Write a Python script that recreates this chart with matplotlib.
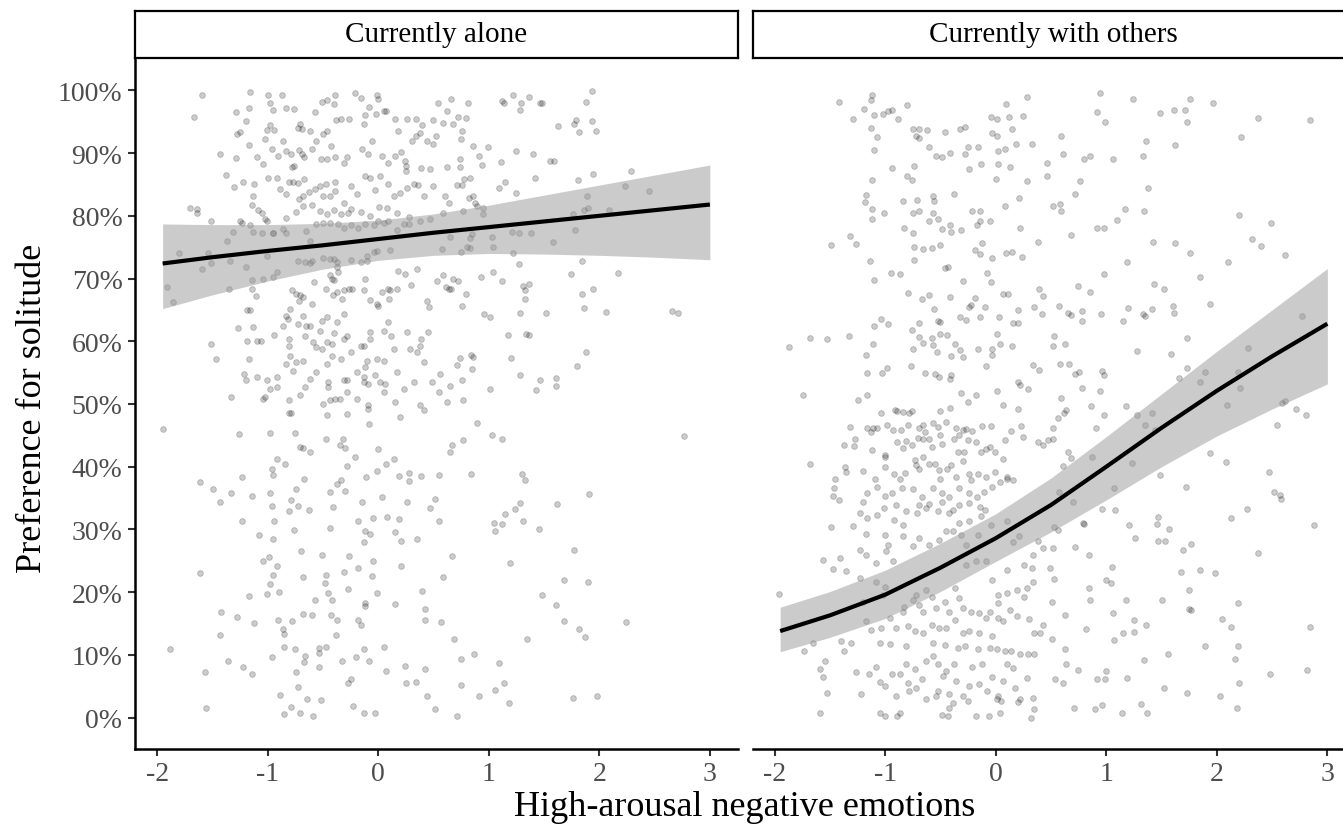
import matplotlib.pyplot as plt
from matplotlib.ticker import FuncFormatter

plt.rcParams['font.family'] = ['Liberation Serif', 'DejaVu Serif']

# ---- values ----
panels = ['Currently alone', 'Currently with others']
x_ticks = [-2, -1, 0, 1, 2, 3]
y_ticks = [0, 10, 20, 30, 40, 50, 60, 70, 80, 90, 100]

# raw observations, panel "Currently alone" (x = emotion score, y = % preference)
alone_x = [
    -1.59, -1.67, -1.16, -1.00, -0.98, -0.95, -0.87, -0.83, -0.76, -0.57,
    -0.51, -0.46, -0.39, -0.40, -0.21, -0.16, -0.08, -0.01, 0.00, -0.02,
    0.05, 0.07, -0.12, -0.13, -0.26, -0.34, -0.38, -0.46, -0.50, -0.56,
    -0.62, -0.71, -0.69, -0.73, -0.86, -0.94, -1.01, -0.98, -1.02, -1.17,
    -1.25, -1.28, -1.20, -1.29, -1.17, -1.43, -1.29, -1.10, -1.04, -0.96,
    -0.91, -0.83, -0.79, -0.78, -0.76, -0.72, -0.69, -0.67, -0.60, -0.52,
    -0.46, -0.43, -0.39, -0.31, -0.28, -0.15, -0.09, -0.06, 0.03, 0.09,
    0.15, 0.21, 0.24, 0.25, 0.31, 0.34, 0.38, 0.40, 0.34, 0.44,
    0.52, 0.54, 0.62, 0.50, 0.59, 0.50, 0.62, 0.47, 0.39, 0.25,
    0.18, 0.15, 0.26,
    -1.38, -1.30, -1.22, -1.12, -1.13, -1.14, -1.09, -1.05, -1.02, -1.00,
    -0.92, -0.89, -0.83, -0.81, -0.77, -0.73, -0.67, -0.72, -0.68, -0.63,
    -0.57, -0.53, -0.47, -0.39, -0.39, -0.50, -0.44, -0.31, -0.25, -0.19,
    -0.12, -0.07, -0.03, 0.02, 0.09, 0.14, 0.20, 0.26, 0.32, 0.36,
    0.41, 0.50, 0.60, 0.64, -0.83, -0.74, -0.68, -0.60, -0.53, -0.46,
    -0.40, -0.34, -0.27, -0.25, -0.16, -0.07, 0.01, 0.08, 0.17, 0.28,
    -1.70, -1.64, -1.64, -1.51, -1.25, -1.23, -1.16, -1.01, -0.83, -0.95,
    -0.86,
    -1.37, -1.31, -1.13, -1.05, -0.95, -0.65, -0.62, -0.56, -0.50, -0.44,
    -0.36, -0.31, -0.25, -0.18, -0.12, -0.04, 0.00, 0.05, 0.09, 0.17,
    0.23, 0.28, 0.38, 0.47, 0.59, -1.80, -1.54, -1.51, -1.59, -1.34,
    -1.20, -1.01, -0.73, -0.62, -0.60, -0.50, -0.44, -0.40, -0.37, -0.25,
    -0.16, -0.10, -0.10, -0.04, -0.01, 0.11, 0.58, -1.91, -1.86, -1.35,
    -1.14, -1.04, -0.95, -0.92, -1.14, -1.11, -0.66, -0.37, -0.36,
    -0.78, -0.74, -0.71, -0.72, -0.80, -0.83, -0.68, -0.60, -0.58, -0.47,
    -0.44, -0.42, -0.40, -0.41, -0.37, -0.33, -0.31, -0.26, -0.24, -0.13,
    -0.12, -0.07, -0.01, 0.00, 0.03, 0.09, 0.11, 0.17, 0.10, 0.18,
    0.24, 0.30, 0.35, 0.44, 0.46, 0.53, 0.59, 0.61, 0.64, -1.19,
    -1.16, -1.27, -1.13, -1.19, -1.10, -1.06, -1.51, -1.47, -1.17, -1.21,
    -1.20, -1.10, -1.01, -0.92, -0.94, -0.86, -0.82, -0.81, -0.81, -0.80,
    -0.77, -0.73, -0.68, -0.65, -0.62, -0.66, -0.59, -0.56, -0.51, -0.53,
    -0.51, -0.46, -0.46, -0.42, -0.40, -0.37, -0.31, -0.31, -0.28, -0.25,
    -0.34, -0.42, -0.46, -0.56, -0.62, -0.66, -0.68, -0.74, -0.83, -0.98,
    -0.92, -1.02, -1.04, -1.33, -0.81, -0.71, -0.50, -0.44, -0.39, -0.35,
    -0.28, -0.28, -0.31, -0.45, -0.45, -0.19, -0.12, -0.10, -0.13, -0.13,
    -0.09, -0.03, 0.02, 0.06, -0.01, 0.05, -0.16, -0.13, -0.07, -0.07,
    0.05, 0.09, 0.12, 0.14, 0.17, 0.26, 0.29, 0.35, 0.38, 0.39,
    0.45, 0.41, 0.49, 0.56, 0.55, 0.62, 0.38, 0.32, 0.23, 0.15,
    0.05, -0.09, -0.19,
    -0.81, -0.79, -0.46, -0.28, -0.09, -0.08, 0.20, 0.41, -1.95, -1.26,
    -0.98, -0.75, -0.71, -0.68, -0.62, -0.47, -0.35, -0.32, -0.30, -0.92,
    -0.84, -0.96, -0.95, -1.61, -1.49, -1.43, -1.33, -1.23, -1.14, -0.98,
    -0.96, -0.79, -0.74, -0.81, -0.73, -0.67, -0.63, -0.44, -0.41, -0.34,
    -0.37, -0.30, -0.28, -0.21, -0.11, -0.15, 0.00, -0.01, 0.07, 0.14,
    0.03, 0.19, 0.28, 0.28, 0.39, 0.55, 0.51, 0.47, 0.26, -1.23,
    -0.94, -1.08, -0.95, -0.76, -0.44, -0.18, -0.05, 0.08, 0.19, -0.12,
    -0.07, -0.13, 0.15, 0.21, 0.35, 0.55, -0.70, -0.51, -0.26, -1.04,
    -0.99, -0.92, -0.95, -0.98, -0.90, -1.01, -1.17, -1.61, -0.68, -0.47,
    -0.48, -0.45, -0.31, -0.27, -0.18, -0.05, -0.06, -0.01, 0.21, 0.40,
    0.59, -0.57, -0.42, -0.12, -0.12, 0.15, 0.42, -1.42, -1.28, -1.12,
    -0.91, -0.86, -0.85, -0.78, -0.68, -0.60, -0.43, -0.37, -0.38, -0.18,
    -0.16, 0.42, 0.57, -1.43, -1.88, -1.36, -1.22, -1.14, -1.57, -1.56,
    -0.96, -0.85, -0.75, -0.66, -0.67, -0.74, -0.73, -0.54, -0.54, -0.47,
    -0.54, -0.33, -0.20, -0.13, -0.08, 0.05, 0.07, 0.24, 0.25, 0.34,
    0.42, 0.44, 0.51, -0.27, -0.25, -0.89, -0.64, -0.52, -0.79, -0.85,
    -0.71, -0.59, -0.23, -0.13, -0.03,
    0.66, 0.81, 0.72, 0.79, 0.68, 0.76, 0.75, 0.86, 0.99, 0.91,
    0.94, 1.11, 0.74, 0.74, 0.71, 0.76, 0.78, 0.83, 0.82, 0.86,
    0.88, 0.89, 0.95, 0.95, 0.77, 1.12, 1.14, 1.22, 1.29, 1.36,
    1.28, 1.46, 1.48, 1.25, 1.40, 1.55, 1.59, 1.42, 1.15, 1.09,
    1.25, 1.63, 1.77, 1.79, 1.82, 1.88, 1.93, 1.93, 1.97, 1.81,
    1.94, 2.29, 1.89, 1.90, 1.86, 1.76, 2.09, 2.23, 2.45, 1.78,
    1.58, 1.38, 1.27, 1.21, 1.03, 1.04, 1.22, 1.27, 0.83, 0.80,
    0.83, 0.85, 0.75, 0.65, 1.84, 1.74, 2.17, 1.94, 1.84, 1.86,
    2.06, 1.52, 1.28, 1.31, 1.33, 1.36, 1.33, 1.04, 1.12, 0.93,
    0.79, 0.76, 0.72, 0.68, 0.66, 0.96, 1.01, 1.17, 1.34, 1.36,
    2.66, 2.71, 1.88, 1.80, 1.20, 0.84, 0.86, 0.74, 0.71, 0.85,
    1.28, 1.46, 1.61, 1.61, 1.43, 1.01, 0.76, 0.65, 0.77, 0.89,
    1.03, 1.12, 0.77, 0.67, 0.65, 2.77, 0.84, 1.30, 1.33, 1.91,
    1.62, 1.28, 1.24, 1.15, 1.12, 1.05, 1.06, 1.31, 1.45, 1.77,
    1.19, 0.67, 1.68, 1.90, 1.48, 1.61, 1.68, 1.82, 1.87, 2.24,
    1.35, 0.69, 0.87, 0.75, 1.09, 1.14, 1.06, 1.18, 0.91, 0.75,
    1.76, 1.98, 0.71,
]
alone_y = [
    99.3, 95.8, 99.8, 99.2, 98.0, 96.8, 99.2, 97.2, 97.0, 96.6,
    98.1, 98.4, 99.3, 97.9, 99.6, 98.8, 97.4, 99.2, 98.6, 96.3,
    96.7, 96.7, 96.0, 94.6, 95.4, 95.4, 95.2, 93.6, 93.1, 91.9,
    93.6, 94.7, 93.9, 94.0, 91.9, 93.7, 93.7, 94.4, 92.2, 91.3,
    93.3, 93.1, 95.1, 96.6, 97.2, 89.9, 89.2, 89.3, 88.2, 90.6,
    89.6, 90.3, 89.9, 87.8, 88.0, 90.5, 89.9, 89.3, 90.7, 89.1,
    89.0, 91.2, 89.3, 88.4, 89.4, 90.6, 89.8, 92.0, 89.5, 88.5,
    89.6, 90.1, 88.7, 88.0, 92.0, 92.7, 93.2, 94.4, 95.4, 91.9,
    92.8, 98.0, 96.7, 95.2, 94.8, 91.5, 87.8, 87.4, 87.7, 87.1,
    93.5, 95.4, 95.4,
    86.5, 84.6, 85.4, 85.1, 83.2, 81.7, 80.9, 80.5, 79.5, 86.1,
    86.1, 84.3, 83.5, 85.4, 85.4, 85.3, 85.9, 82.7, 83.2, 83.8,
    84.2, 84.7, 85.0, 85.4, 83.9, 83.2, 83.2, 82.1, 84.8, 83.4,
    86.3, 86.1, 84.1, 86.3, 85.0, 83.2, 83.7, 84.5, 85.0, 84.9,
    83.2, 84.8, 83.2, 82.1, 79.7, 80.6, 81.6, 81.7, 80.8, 80.3,
    80.9, 80.3, 80.5, 81.1, 80.6, 80.0, 81.4, 81.2, 80.4, 79.8,
    81.2, 81.1, 80.5, 79.1, 79.1, 78.9, 78.6, 79.2, 77.3, 77.3,
    77.9,
    76.0, 77.5, 77.4, 77.2, 77.2, 77.6, 76.0, 78.7, 78.9, 78.8,
    78.7, 78.1, 78.5, 78.1, 78.7, 78.5, 79.2, 78.9, 79.2, 77.8,
    78.7, 78.7, 79.2, 79.5, 80.5, 74.1, 74.0, 72.5, 71.5, 72.8,
    71.9, 73.6, 72.8, 72.4, 72.8, 73.2, 73.1, 73.1, 72.6, 72.9,
    72.7, 73.6, 72.8, 74.3, 74.4, 74.6, 74.7, 68.6, 66.2, 68.3,
    69.8, 69.9, 70.3, 71.1, 68.3, 67.2, 72.6, 71.8, 71.1,
    68.2, 67.5, 67.3, 66.5, 65.1, 64.1, 67.0, 65.9, 69.5, 68.3,
    70.5, 69.9, 69.8, 67.4, 67.8, 66.7, 68.1, 68.3, 68.3, 68.1,
    69.9, 66.6, 65.9, 65.7, 67.8, 68.3, 68.1, 68.3, 66.7, 71.2,
    70.7, 68.9, 71.5, 66.5, 65.4, 69.6, 70.6, 68.6, 68.3, 65.0,
    65.0, 62.1, 62.2, 60.0, 60.1, 60.1, 59.6, 57.2, 57.2, 54.8,
    53.9, 54.3, 53.9, 54.3, 61.0, 62.5, 63.6, 60.4, 59.3, 57.7,
    55.3, 62.8, 64.1, 62.5, 62.5, 60.9, 59.9, 59.1, 58.8, 61.7,
    63.3, 63.8, 59.9, 59.6, 61.3, 63.0, 64.4, 60.4, 60.9, 58.3,
    57.2, 57.7, 56.4, 55.1, 54.0, 52.7, 56.9, 56.7, 56.4, 52.4,
    52.7, 51.1, 50.8, 51.1, 50.6, 51.4, 50.0, 50.6, 50.8, 50.8,
    51.9, 53.8, 53.8, 53.5, 52.7, 55.1, 55.9, 56.9, 54.3, 53.5,
    53.2, 54.6, 53.5, 53.2, 57.2, 56.9, 59.3, 59.3, 61.4, 60.4,
    61.7, 63.0, 60.9, 58.8, 55.1, 61.4, 58.8, 58.3, 59.3, 60.4,
    61.4, 56.7, 53.5, 54.8, 51.9, 50.3, 49.8, 53.5, 52.4, 50.3,
    51.9, 49.8, 50.8,
    48.6, 48.6, 48.2, 48.4, 49.2, 46.8, 47.9, 49.0, 46.0, 45.2,
    45.3, 45.3, 43.2, 43.0, 42.4, 44.5, 43.5, 44.4, 43.0, 41.2,
    40.5, 39.7, 38.7, 37.5, 36.4, 34.4, 35.8, 38.3, 35.3, 35.8,
    33.8, 34.7, 36.5, 32.9, 33.8, 38.1, 33.1, 35.9, 33.6, 37.9,
    37.2, 36.2, 40.1, 41.5, 38.3, 34.3, 42.9, 39.3, 40.4, 41.3,
    35.2, 38.6, 39.0, 37.8, 38.6, 38.7, 34.8, 33.4, 34.4, 31.3,
    31.3, 29.1, 28.5, 29.9, 30.2, 31.4, 31.8, 32.0, 31.7, 29.7,
    29.3, 28.0, 29.6, 28.2, 28.4, 31.4, 26.5, 26.0, 25.7, 24.9,
    25.6, 24.1, 22.8, 21.3, 20.1, 19.7, 19.4, 23.1, 22.5, 22.7,
    21.5, 19.9, 23.2, 20.5, 23.9, 25.0, 22.6, 19.9, 24.2, 20.2,
    22.4, 18.8, 18.7, 18.3, 17.8, 18.1, 17.3, 16.8, 16.1, 15.1,
    15.5, 14.2, 13.3, 15.4, 16.6, 16.3, 16.4, 15.5, 13.1, 15.5,
    14.8, 15.5, 15.3, 13.2, 10.9, 9.0, 8.0, 6.9, 7.3, 1.5,
    9.6, 11.2, 10.9, 9.9, 8.8, 7.2, 4.9, 11.1, 10.3, 11.3,
    8.1, 9.1, 9.6, 11.0, 9.1, 11.3, 7.4, 8.2, 5.6, 5.7,
    7.7, 3.4, 1.3, 5.6, 6.1, 3.6, 2.9, 2.8, 1.7, 0.6,
    0.7, 0.3, 1.8, 0.7, 0.7,
    98.6, 98.0, 95.7, 95.6, 94.6, 93.6, 92.2, 91.2, 90.9, 89.5,
    88.1, 88.6, 89.0, 87.8, 84.9, 84.9, 85.8, 86.1, 82.8, 83.1,
    82.1, 81.5, 81.2, 80.3, 80.8, 98.3, 98.0, 99.2, 98.0, 98.9,
    96.8, 98.0, 98.0, 90.4, 89.9, 88.8, 88.8, 86.1, 85.4, 84.4,
    83.7, 94.3, 94.6, 95.2, 93.4, 98.2, 99.9, 95.1, 93.6, 85.7,
    86.7, 87.2, 83.2, 81.2, 81.0, 80.3, 81.0, 84.7, 83.9, 77.8,
    75.8, 77.3, 77.3, 77.5, 76.7, 75.1, 74.0, 72.3, 74.8, 75.0,
    76.4, 77.1, 74.3, 76.6, 72.8, 70.7, 70.9, 68.4, 67.5, 65.3,
    64.6, 64.5, 64.5, 68.8, 68.1, 69.2, 66.7, 71.1, 69.6, 70.3,
    67.5, 65.7, 69.6, 69.9, 68.4, 64.3, 63.8, 61.0, 61.2, 61.0,
    64.9, 64.5, 58.3, 56.1, 57.3, 57.8, 57.5, 57.3, 56.2, 55.6,
    54.6, 53.9, 54.1, 52.9, 52.2, 52.4, 53.9, 52.9, 50.7, 47.0,
    45.1, 44.5, 44.2, 43.4, 42.4, 44.9, 38.8, 38.8, 37.9, 35.7,
    34.1, 34.2, 33.2, 32.5, 30.8, 31.1, 29.7, 31.3, 30.1, 26.7,
    24.7, 25.7, 21.9, 21.6, 19.6, 17.9, 15.4, 14.2, 12.9, 15.2,
    12.6, 12.5, 10.2, 9.4, 8.7, 5.6, 4.4, 2.4, 3.4, 5.2,
    3.1, 3.5, 0.3,
]

# raw observations, panel "Currently with others"
others_x = [
    -1.42, -1.13, -1.12, -1.19, -1.29, -1.10, -1.02, -0.97, -0.94, -0.80,
    -0.88, -1.13, -1.07, -1.10, -0.75, -0.69, -0.62, -0.72, -0.69, -0.46,
    -0.32, -0.28, -0.60, -0.54, -0.49, -0.41, -0.28, -0.25, -0.16, -0.04,
    0.01, -0.03, 0.01, 0.09, 0.12, 0.15, 0.25, 0.28, 0.02, 0.08,
    0.18, 0.33, 0.46, 0.46, 0.02, 0.13, -0.13, -0.24, 0.00, 0.28,
    -0.94, -0.74, -0.80, -0.76, -1.12, -1.17, -1.18, -1.12, -1.12, -1.01,
    -0.84, -0.71, -0.57, -0.56, -0.38, -0.75, -0.69, -0.57, -0.60, -0.52,
    -0.83, -0.75, -0.49, -0.41, -0.40, -0.31, -0.21, -0.14, -0.14, -0.17,
    -0.05, 0.08, 0.21, 0.22, 0.38, -1.32, -1.26, -1.49, -1.14, -1.10,
    -0.95, -0.87, -0.74, -0.74, -0.66, -0.58, -0.50, -0.46, -0.43, -0.30,
    -0.19, -0.12, -0.14, -0.03, 0.09, 0.15, 0.24, -0.08, -0.04, -0.79,
    -0.67, -0.60, -0.56, -0.41, -0.24, -0.22, -0.19, -0.10, 0.07, 0.11,
    0.20, 0.35, 0.39, 0.43, 0.42, -1.68, -1.53, -1.87, -1.33, -1.10,
    -1.04, -0.97, -1.11, -1.17, -0.76, -0.69, -0.69, -0.66, -0.58, -0.57,
    -0.53, -0.52, -0.50, -0.50, -0.44, -0.32, -0.27, -0.37, -0.40, -0.30,
    -0.32, -0.75, -0.14, 0.03, 0.16, 0.20, 0.01, 0.04, 0.15, -0.03,
    -0.03, -0.16, -0.09, 0.34, 0.39, -1.16, -1.03, -0.98, -0.77, -0.64,
    -0.55, -0.51, -0.40, -0.41, -1.74, -1.25, -1.16, -0.31, -0.25, -0.18,
    0.01, 0.20, 0.22, 0.29, 0.07,
    -1.04, -0.91, -0.89, -0.84, -0.78, -0.76, -0.50, -0.41, 0.20, -1.32,
    -1.16, -1.13, -1.11, -1.07, -0.98, -0.93, -0.86, -0.79, -0.69, -0.66,
    -0.57, -0.52, -0.45, -0.36, -0.30, -0.27, -0.21, -0.12, -0.04, 0.14,
    0.23, 0.25, 0.08, -1.37, -1.27, -1.28, -1.12, -1.00, -1.00, -0.89,
    -0.84, -0.81, -0.76, -0.70, -0.66, -0.64, -0.60, -0.58, -0.50, -0.49,
    -0.38, -0.33, -0.29, -0.25, -0.18, -0.13, -0.09, -0.05, -0.01, 0.07,
    0.38, 0.43, 0.47, -1.68, -1.36, -1.35, -1.20, -1.09, -1.00, -0.92,
    -0.87, -0.82, -0.73, -0.72, -0.69, -0.66, -0.60, -0.55, -0.51, -0.50,
    -0.44, -0.40, -0.36, -0.34, -0.30, -0.24, -0.22, -0.16, -0.09, -0.01,
    0.04, 0.10, 0.16, -1.45, -1.46, -1.47, -1.42, -1.16, -1.07, -1.00,
    -0.94, -0.85, -0.75, -0.67, -0.57, -0.49, -0.42, -0.33, -0.24, -0.17,
    -0.11, -0.03, 0.10, -1.20, -1.16, -1.23, -1.07, -1.01, -0.92, -0.90,
    -0.84, -0.81, -0.71, -0.69, -0.63, -0.60, -0.52, -0.49, -0.42, -0.39,
    -0.33, -0.33, -0.24, -0.24, -0.14, -0.13, -0.10, -1.49, -1.29, -1.17,
    -1.17, -1.00, -0.99, -0.93, -1.08, -1.23, -1.41, -1.56, -1.47, -1.35,
    -0.97, -0.84, -0.75, -0.69, -0.60, -0.51, -0.45, -0.39, -0.31, -0.27,
    -0.16, -0.27, -0.18, -0.09, -0.04, 0.10, 0.16, 0.21, 0.34, 0.38,
    0.43, 0.26, 0.33, 0.34, 0.28, 0.26, 0.10, -0.03, 0.02, 0.02,
    0.10, 0.19, -1.23, -1.08, -1.17, -1.20, -1.00, -1.02, -0.83, -0.84,
    -0.75, -0.72, -0.69, -0.66, -0.63, -0.58, -0.54, -0.46, -0.42, -0.37,
    -0.33, -0.30, -0.22, -0.15, -0.09, -0.05, 0.02, 0.07, 0.13, 0.19,
    0.30, 0.40, 0.43, 0.35, -0.96, -0.90, -1.04, -1.13, -0.79, -0.73,
    -0.66, -0.58, -0.51, -0.45, -0.37, -0.30, -0.24, -0.15, -0.03, 0.08,
    0.14, 0.22, 0.29, 0.35, 0.01, -0.05, -0.16, -0.34, -0.28, -0.46,
    -0.57, -0.81, -0.96, -1.05, -1.31, -1.37, -1.40, -1.73, -1.65, -1.54,
    -1.59, -1.56, -1.53, -1.59, -1.26, -1.15, -1.05, -1.22, -1.08, -1.00,
    -0.94, -0.87, -0.81, -0.79, -0.78, -0.73, -0.72, -0.67, -0.63, -0.57,
    -0.52, -0.52, -0.48, -0.45, -0.42, -0.38, -0.36, -0.30, -0.24, -0.21,
    -0.15, -0.12, -0.08, -0.03, 0.02, 0.07, 0.10, 0.16, 0.17, 0.22,
    0.28, 0.34, 0.35, 0.32, 0.20, -1.05, -1.00, -0.89, -0.87, -0.90,
    -0.63, -0.54, -0.49, -0.43, -0.42, -0.39, -0.25, -0.18, -0.06, 0.04,
    0.05, 0.01, -1.96,
    0.94, 0.92, 0.99, 1.24, 1.49, 1.61, 1.71, 1.76, 1.73, 1.97,
    2.37, 2.84, 2.22, 0.59, 0.61, 0.80, 0.85, 1.06, 1.33, 1.36,
    1.62, 0.76, 0.72, 0.52, 0.58, 0.59, 1.38, 1.34, 1.17, 1.10,
    0.92, 0.98, 0.68, 1.42, 1.62, 1.76, 2.20, 2.49, 2.32, 2.40,
    2.62, 1.19, 0.98, 2.10, 1.85, 1.43, 1.52, 0.74, 0.85, 0.57,
    0.78, 0.78, 0.65, 0.68, 0.95, 1.20, 1.15, 1.33, 1.35, 1.41,
    1.60, 1.61, 1.94, 0.53, 0.52, 0.63, 0.58, 0.66, 0.72, 0.75,
    0.78, 0.96, 0.98, 0.94, 1.28, 1.59, 1.73, 1.73, 1.66, 0.59,
    0.86, 0.98, 0.56, 0.52, 0.62, 0.64, 0.91, 1.18, 1.28, 2.28,
    2.77, 1.85, 1.89, 2.19, 2.21, 2.09, 2.59, 2.62, 2.54, 2.72,
    2.81, 1.41, 1.35, 1.44, 1.23, 1.07, 0.87, 0.65, 0.68, 0.52,
    0.61, 0.57, 0.70, 0.96, 1.08, 0.79, 0.80, 0.53, 0.56, 0.52,
    0.72, 0.84, 1.21, 1.26, 1.47, 1.46, 1.47, 1.53, 1.57, 1.49,
    1.72, 1.94, 2.08, 2.47, 2.52, 2.57, 2.58, 2.88, 2.13, 2.27,
    2.37, 1.69, 1.77, 1.85, 1.68, 1.98, 0.49, 0.53, 0.84, 0.85,
    1.00, 1.04, 1.05, 1.18, 1.06, 1.50, 1.75, 1.75, 1.77, 2.05,
    2.13, 2.19, 2.84, 0.51, 0.63, 0.51, 0.63, 0.64, 0.82, 1.07,
    1.15, 1.25, 1.25, 1.36, 1.34, 1.56, 1.89, 2.16, 2.19, 2.48,
    2.82, 2.20, 2.03, 1.73, 1.52, 1.19, 1.00, 0.99, 0.92, 0.74,
    0.61, 0.54, 0.71, 0.90, 0.96, 1.14, 1.31, 1.37, 2.18,
]
others_y = [
    98.2, 98.5, 99.3, 97.1, 95.4, 96.0, 96.3, 96.7, 96.8, 97.6,
    95.5, 94.0, 92.6, 90.5, 93.9, 93.9, 93.7, 92.7, 92.4, 93.3,
    93.8, 94.1, 91.0, 89.6, 89.4, 90.0, 89.8, 91.0, 90.9, 95.8,
    95.5, 93.2, 92.8, 97.9, 95.8, 93.8, 95.9, 99.0, 90.4, 90.6,
    91.4, 91.4, 88.5, 86.3, 88.3, 87.8, 88.2, 87.5, 85.9, 85.6,
    87.7, 87.9, 86.3, 85.7, 85.7, 83.3, 82.2, 81.1, 79.5, 80.5,
    82.4, 82.6, 83.1, 82.4, 83.4, 80.5, 80.8, 80.5, 79.1, 79.5,
    78.1, 77.2, 77.9, 78.5, 77.4, 77.8, 80.8, 80.8, 79.1, 78.5,
    79.1, 81.6, 82.9, 78.1, 75.8, 76.8, 75.5, 75.4, 72.8, 69.7,
    70.9, 70.8, 75.0, 73.0, 74.7, 74.8, 75.4, 71.7, 71.9, 69.6,
    74.5, 75.7, 73.9, 73.2, 74.1, 74.3, 73.5, 70.9, 69.5, 67.7,
    66.7, 67.4, 65.2, 67.0, 65.4, 65.8, 66.9, 65.4, 67.5, 67.5,
    65.0, 65.4, 68.4, 67.2, 64.3, 60.6, 60.4, 59.1, 60.9, 62.4,
    63.5, 62.7, 59.6, 57.8, 61.8, 62.9, 60.7, 59.7, 60.5, 59.4,
    58.3, 63.3, 63.0, 61.1, 61.0, 63.8, 63.4, 59.5, 57.6, 57.5,
    58.6, 58.8, 63.8, 63.8, 62.9, 62.9, 61.2, 59.5, 59.2, 58.7,
    57.8, 58.8, 56.1, 56.2, 55.5, 54.9, 55.0, 55.7, 56.0, 55.0,
    54.8, 54.3, 54.6, 54.0, 51.5, 50.7, 51.4, 51.7, 50.3, 51.4,
    52.1, 53.5, 53.1, 52.4, 49.8,
    48.5, 49.0, 48.9, 48.8, 48.5, 48.9, 48.9, 49.3, 49.2, 46.4,
    46.1, 45.6, 46.1, 46.1, 46.7, 45.8, 45.8, 46.6, 46.2, 46.6,
    46.9, 46.4, 47.1, 46.2, 45.8, 46.0, 45.7, 46.5, 46.5, 45.7,
    46.5, 44.8, 44.2, 43.5, 44.5, 43.3, 42.7, 41.9, 40.0, 44.0,
    43.0, 44.1, 43.5, 44.6, 44.4, 45.6, 44.4, 43.2, 45.0, 43.7,
    44.5, 45.1, 42.4, 44.2, 44.0, 42.4, 42.9, 43.1, 42.4, 41.2,
    44.0, 43.4, 44.2, 40.5, 40.0, 39.2, 39.3, 38.1, 41.6, 38.8,
    38.1, 39.0, 41.1, 40.3, 39.7, 41.6, 40.4, 40.5, 39.5, 38.1,
    39.7, 40.3, 38.3, 42.4, 40.9, 38.9, 37.9, 38.9, 38.4, 39.2,
    37.6, 38.4, 37.9, 38.1, 36.6, 35.3, 34.7, 35.8, 36.8, 35.3,
    35.8, 36.6, 36.5, 35.2, 36.6, 35.8, 35.2, 36.6, 35.8, 35.2,
    36.0, 36.7, 38.1, 34.3, 31.9, 32.6, 32.3, 33.4, 31.5, 33.9,
    30.7, 32.9, 32.6, 33.9, 33.4, 34.0, 32.9, 34.4, 32.6, 33.1,
    33.9, 31.1, 34.2, 31.3, 33.6, 32.1, 33.1, 30.4, 30.5, 29.2,
    26.0, 29.1, 26.5, 24.9, 24.6, 26.8, 25.5, 25.2, 23.7, 23.4,
    27.6, 28.9, 27.3, 28.6, 27.5, 28.3, 29.7, 29.8, 29.1, 27.6,
    29.1, 24.4, 24.9, 24.9, 30.7, 31.3, 28.0, 28.9, 26.0, 28.1,
    27.0, 24.4, 23.9, 21.7, 20.7, 19.3, 23.6, 22.0, 19.6, 18.3,
    19.9, 20.4, 22.3, 21.7, 15.4, 18.5, 20.9, 19.6, 17.7, 16.9,
    18.8, 19.6, 18.0, 16.9, 20.4, 19.3, 17.5, 18.5, 16.9, 20.7,
    19.1, 17.5, 16.9, 16.7, 15.9, 16.9, 15.9, 15.4, 17.2, 16.2,
    15.7, 13.5, 14.8, 13.5, 15.9, 14.3, 14.3, 14.0, 14.6, 13.8,
    13.5, 14.8, 14.3, 14.3, 15.6, 13.5, 13.8, 13.5, 13.0, 10.6,
    10.6, 10.1, 10.1, 10.1, 10.9, 11.1, 11.0, 11.1, 11.4, 11.6,
    11.9, 11.4, 11.7, 11.9, 11.9, 10.6, 12.2, 10.7, 11.9, 9.0,
    7.8, 6.4, 4.0, 0.8, 7.3, 6.9, 5.7, 3.8, 8.0, 5.0,
    6.9, 6.9, 8.5, 5.6, 4.2, 7.7, 4.7, 6.1, 9.0, 9.8,
    8.5, 4.2, 6.6, 7.4, 3.7, 8.5, 5.8, 3.4, 5.0, 8.0,
    5.3, 8.5, 4.2, 6.4, 3.4, 5.8, 8.5, 7.9, 4.8, 2.9,
    6.3, 3.2, 1.3, 0.0, 2.5, 0.8, 0.3, 0.3, 0.8, 3.4,
    2.9, 3.4, 0.5, 0.3, 1.6, 2.4, 2.6, 0.3, 0.3, 0.8,
    2.6, 2.9, 19.7,
    99.6, 96.6, 95.0, 98.7, 96.4, 96.8, 96.8, 98.7, 95.0, 98.0,
    95.6, 95.3, 92.6, 92.7, 89.8, 89.0, 89.5, 89.0, 89.5, 91.9,
    91.3, 85.6, 83.4, 81.5, 81.9, 80.7, 84.4, 80.8, 81.1, 79.3,
    78.0, 78.0, 77.0, 75.8, 75.6, 74.1, 80.2, 78.8, 76.3, 75.2,
    73.7, 72.6, 70.7, 72.6, 70.2, 69.1, 68.4, 68.8, 67.9, 65.6,
    64.8, 63.3, 64.5, 64.2, 64.3, 65.3, 63.3, 64.3, 64.0, 65.1,
    65.6, 64.5, 66.0, 60.8, 59.2, 59.6, 56.4, 56.4, 54.8, 55.1,
    52.5, 55.3, 54.6, 52.1, 58.4, 57.9, 60.5, 55.8, 54.1, 51.0,
    49.7, 48.3, 47.8, 46.1, 48.5, 49.0, 46.1, 49.7, 48.3, 58.9,
    64.0, 53.5, 55.1, 55.1, 52.5, 49.9, 50.2, 50.4, 46.6, 49.2,
    48.3, 48.6, 46.6, 45.8, 40.6, 36.6, 41.5, 42.4, 41.4, 44.4,
    40.1, 35.9, 34.3, 33.3, 33.1, 31.1, 30.8, 30.4, 29.9, 27.0,
    27.2, 26.0, 30.7, 28.7, 32.0, 30.9, 28.2, 28.2, 30.1, 38.7,
    36.7, 42.2, 40.7, 39.1, 36.0, 35.5, 34.8, 30.7, 31.8, 33.2,
    26.3, 26.8, 27.7, 23.5, 23.2, 23.1, 23.8, 22.1, 20.7, 18.8,
    21.9, 21.5, 24.0, 18.7, 16.7, 18.7, 20.4, 17.3, 17.1, 15.8,
    14.4, 18.3, 14.5, 18.5, 16.4, 12.5, 11.0, 8.6, 14.1, 12.4,
    13.5, 13.6, 15.5, 14.7, 9.2, 10.1, 11.4, 9.3, 11.4, 6.9,
    7.6, 5.5, 3.5, 3.9, 4.7, 6.3, 7.5, 6.2, 6.2, 7.6,
    5.6, 6.1, 1.5, 1.4, 2.0, 0.7, 2.2, 0.8, 1.5,
]

# fitted curve and confidence band for each panel
fit_x = [-1.95, -1.5, -1.0, -0.5, 0.0, 0.5, 1.0, 1.5, 2.0, 2.5, 3.0]
alone_fit = [72.4, 73.4, 74.4, 75.3, 76.3, 77.3, 78.2, 79.1, 80.0, 80.9, 81.8]
alone_lo = [65.2, 67.4, 69.6, 71.5, 72.9, 73.7, 74.0, 73.9, 73.7, 73.4, 73.0]
alone_hi = [78.7, 78.6, 78.6, 78.8, 79.3, 80.3, 81.7, 83.3, 84.9, 86.5, 88.1]
others_fit = [13.8, 16.3, 19.6, 23.9, 28.6, 33.9, 40.0, 46.2, 52.1, 57.6, 62.8]
others_lo = [10.5, 12.8, 15.8, 20.1, 24.9, 29.6, 34.7, 40.0, 44.9, 49.2, 53.2]
others_hi = [17.6, 20.1, 23.5, 27.8, 32.5, 38.2, 44.8, 51.6, 58.4, 65.0, 71.6]

W, H = 1343, 828
fig = plt.figure(figsize=(W / 100, H / 100), dpi=100)


def box(x0, y0, x1, y1):
    # pixel box (origin top-left) -> figure fraction
    return [x0 / W, 1 - y1 / H, (x1 - x0) / W, (y1 - y0) / H]


ax1 = fig.add_axes(box(135, 60, 737.5, 750))
ax2 = fig.add_axes(box(752.5, 60, 1355, 750))

series = [
    (ax1, alone_x, alone_y, alone_fit, alone_lo, alone_hi),
    (ax2, others_x, others_y, others_fit, others_lo, others_hi),
]
for ax, xs, ys, fit, lo, hi in series:
    ax.scatter(xs, ys, s=17, color='black', alpha=0.2, linewidths=0.7,
               edgecolors='black', zorder=2)
    ax.fill_between(fit_x, lo, hi, color='#999999', alpha=0.5, lw=0, zorder=3)
    ax.plot(fit_x, fit, color='black', lw=3, solid_capstyle='butt',
            solid_joinstyle='round', zorder=4)

    ax.set_xlim(-2.2, 3.25)
    ax.set_ylim(-5, 105)
    ax.set_xticks(x_ticks)
    ax.set_yticks(y_ticks)
    ax.xaxis.set_major_formatter(FuncFormatter(lambda v, p: '%d' % v))
    ax.yaxis.set_major_formatter(FuncFormatter(lambda v, p: '%d%%' % v))
    ax.tick_params(labelsize=20, labelcolor='#4d4d4d', length=5, width=1.5,
                   color='#333333', pad=4)
    for s in ['top', 'right']:
        ax.spines[s].set_visible(False)
    ax.spines['bottom'].set_linewidth(1.8)
    ax.spines['left'].set_linewidth(1.8)

ax2.spines['left'].set_visible(False)
ax2.tick_params(axis='y', left=False, labelleft=False)

# facet strips
for rect, name in [(box(135, 12, 737.5, 59), panels[0]),
                   (box(752.5, 12, 1355, 59), panels[1])]:
    st = fig.add_axes(rect)
    st.set_xticks([])
    st.set_yticks([])
    for s in st.spines.values():
        s.set_linewidth(1.6)
    st.text(0.5, 0.5, name, ha='center', va='center', fontsize=21,
            transform=st.transAxes)

fig.text(33 / W, 1 - 408 / H, 'Preference for solitude', rotation=90,
         ha='center', va='center', fontsize=26)
fig.text(745 / W, 1 - 808 / H, 'High-arousal negative emotions',
         ha='center', va='center', fontsize=26)

fig.savefig('out.png', dpi=100)
